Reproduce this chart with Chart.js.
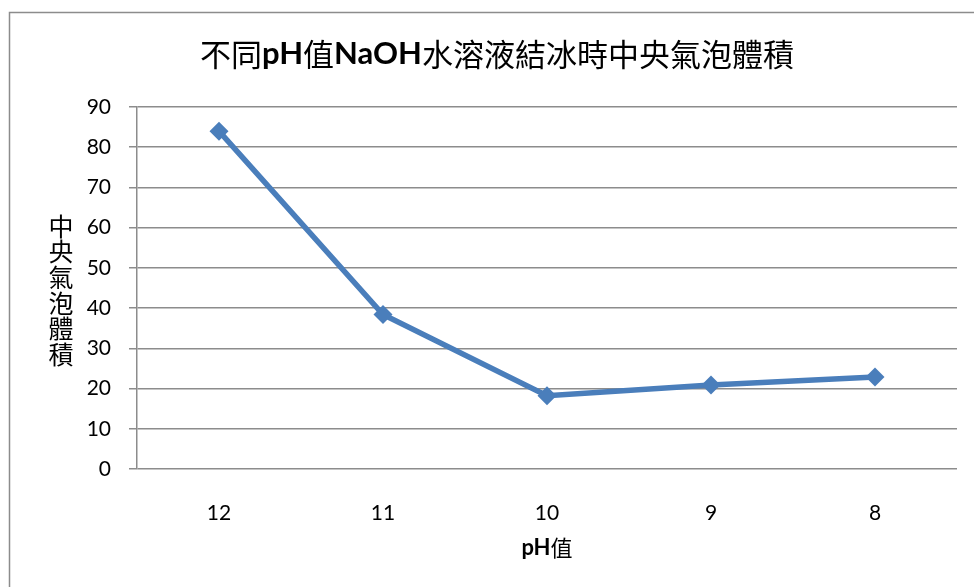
<html lang="zh-Hant">
<head>
  <meta charset="UTF-8">
  <title>不同pH值NaOH水溶液結冰時中央氣泡體積</title>
  <script src="https://cdn.jsdelivr.net/npm/chart.js"></script>
  <style>
    html, body { margin: 0; padding: 0; background: #fff; overflow: hidden; }
    #wrap { width: 974px; height: 587px; position: relative; }
  </style>
</head>
<body>
  <div id="wrap"><canvas id="bubbleChart" width="974" height="587"></canvas></div>

  <script>
    // data
    const phLabels = ['12', '11', '10', '9', '8'];
    const bubbleVolume = [84, 38.4, 18.2, 20.9, 22.9];
    const yMin = 0, yMax = 90, yStep = 10;

    // text pieces: [text, bold]
    const titleParts = [['不同', false], ['pH', true], ['值', false], ['NaOH', true], ['水溶液結冰時中央氣泡體積', false]];
    const xTitleParts = [['pH', true], ['值', false]];
    const yTitle = '中央氣泡體積';

    const FONT = "Lato, 'Noto Sans CJK TC', sans-serif";
    const CJK = "'Noto Sans CJK TC', Lato, sans-serif";

    // draws mixed bold / normal text centred on cx
    function drawParts(ctx, parts, size, cx, cy) {
      const fontOf = p => (p[1] ? 'bold ' : '') + size + 'px ' + (p[1] ? FONT : CJK);
      let total = 0;
      const widths = parts.map(p => {
        ctx.font = fontOf(p);
        const w = ctx.measureText(p[0]).width;
        total += w;
        return w;
      });
      let x = cx - total / 2;
      ctx.textAlign = 'left';
      parts.forEach((p, i) => {
        ctx.font = fontOf(p);
        ctx.fillText(p[0], x, cy);
        x += widths[i];
      });
    }

    // frame + titles
    const extraText = {
      id: 'extraText',
      beforeDraw(chart) {
        const ctx = chart.ctx;
        ctx.save();
        ctx.strokeStyle = '#8c8c8c';
        ctx.lineWidth = 1.5;
        ctx.beginPath();
        ctx.moveTo(9.5, 600);
        ctx.lineTo(9.5, 12.5);
        ctx.lineTo(980, 12.5);
        ctx.stroke();
        ctx.restore();
      },
      afterDraw(chart) {
        const ctx = chart.ctx;
        const xs = chart.scales.x;
        ctx.save();
        ctx.fillStyle = '#000';
        ctx.textBaseline = 'middle';
        drawParts(ctx, titleParts, 31, 497, 54);
        drawParts(ctx, xTitleParts, 22, (xs.left + xs.right) / 2, 548);
        // y title, one char per line
        ctx.font = '25px ' + CJK;
        ctx.textAlign = 'center';
        Array.from(yTitle).forEach((c, i) => {
          ctx.fillText(c, 61, 226 + i * 25.7);
        });
        ctx.restore();
      }
    };

    const ctx = document.getElementById('bubbleChart').getContext('2d');
    new Chart(ctx, {
      type: 'line',
      data: {
        labels: phLabels,
        datasets: [{
          data: bubbleVolume,
          borderColor: '#4a7ebb',
          backgroundColor: '#4a7ebb',
          borderWidth: 5.5,
          pointStyle: 'rectRot',
          pointRadius: 9.5,
          pointBorderWidth: 0,
          tension: 0,
          fill: false
        }]
      },
      options: {
        responsive: false,
        animation: false,
        layout: { padding: { top: 107, right: 17, left: 0, bottom: 0 } },
        plugins: {
          legend: { display: false },
          tooltip: { enabled: false },
          title: { display: false }
        },
        scales: {
          x: {
            offset: true,
            grid: { display: false, offset: true },
            border: { display: false },
            ticks: { color: '#000', font: { family: FONT, size: 21 }, padding: 24, maxRotation: 0 },
            afterFit(scale) { scale.height = 118; }
          },
          y: {
            min: yMin,
            max: yMax,
            ticks: { stepSize: yStep, color: '#000', font: { family: FONT, size: 21 }, padding: 18 },
            grid: { color: '#8c8c8c', lineWidth: 1.5, tickLength: 8, drawTicks: true },
            border: { display: true, color: '#8c8c8c', width: 1.5 },
            afterFit(scale) { scale.width = 137; }
          }
        }
      },
      plugins: [extraText]
    });
  </script>
</body>
</html>
